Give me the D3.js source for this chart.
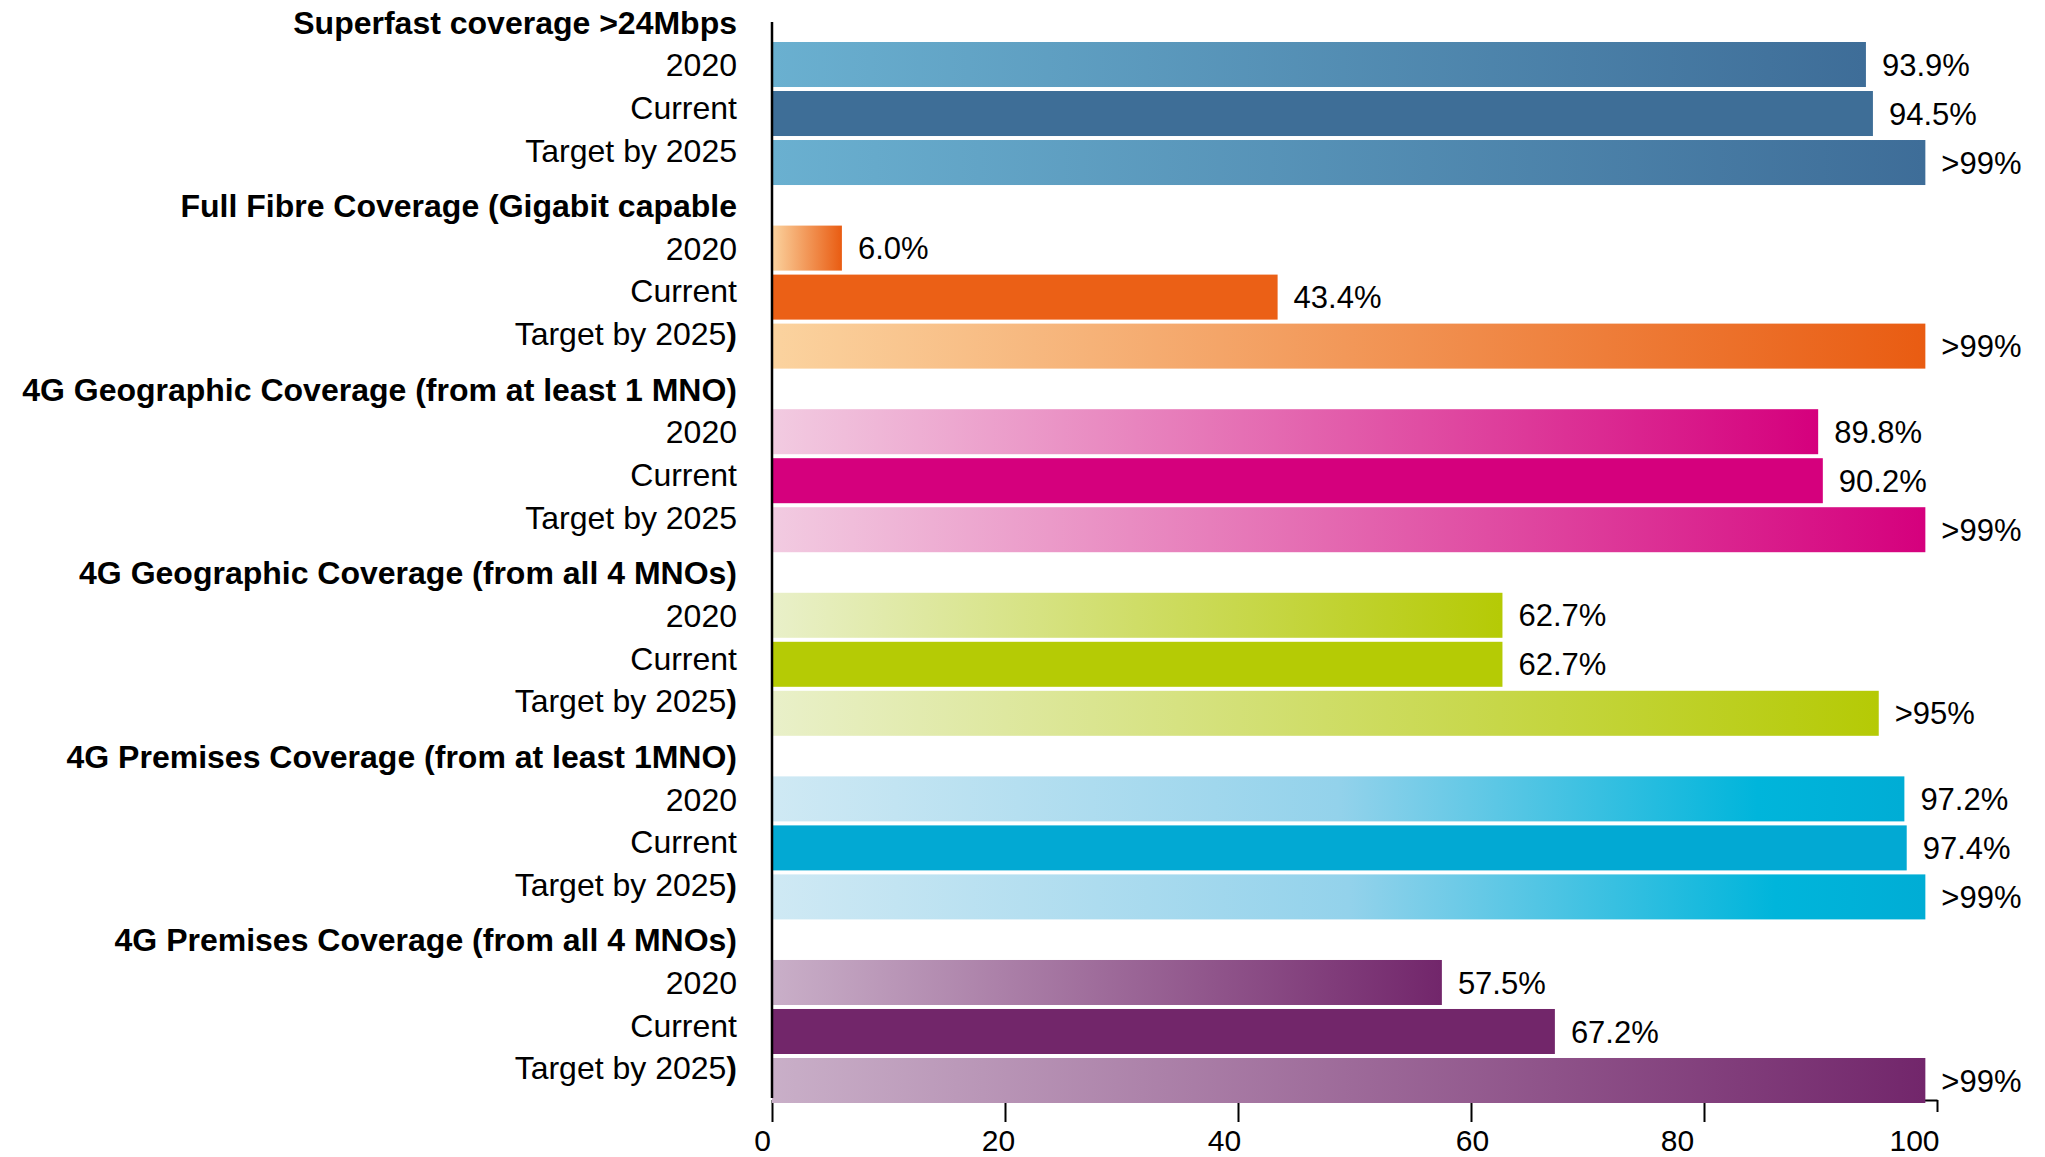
<!DOCTYPE html>
<html>
<head>
<meta charset="utf-8">
<script src="https://cdn.jsdelivr.net/npm/d3@7"></script>
<style>
  body { margin: 0; background: #fff; }
  svg { display: block; font-family: "Liberation Sans", Arial, sans-serif; }
</style>
</head>
<body>
<div id="chart"></div>
<script>
// coverage groups (headers as they appear in the source chart)
const groups = [
  "Superfast coverage >24Mbps",
  "Full Fibre Coverage (Gigabit capable",
  "4G Geographic Coverage (from at least 1 MNO)",
  "4G Geographic Coverage (from all 4 MNOs)",
  "4G Premises Coverage (from at least 1MNO)",
  "4G Premises Coverage (from all 4 MNOs)"
];
const series = ["2020", "Current", "Target"];
const targetLabels = [
  "Target by 2025", "Target by 2025)", "Target by 2025",
  "Target by 2025)", "Target by 2025)", "Target by 2025)"
];

const values2020 = [93.9, 6.0, 89.8, 62.7, 97.2, 57.5];
const valuesCurrent = [94.5, 43.4, 90.2, 62.7, 97.4, 67.2];
const valuesTarget = [99, 99, 99, 95, 99, 99];
const targetText = [">99%", ">99%", ">99%", ">95%", ">99%", ">99%"];

const xTicks = [0, 20, 40, 60, 80, 100];

// styling, kept apart from the numbers
const solidColors = ["#3E6E97", "#EB6016", "#D5007D", "#B5CB05", "#02A9D3", "#72266A"];
const gradStops = [
  [[0, "#6AB0D0"], [1, "#3E6D98"]],
  [[0, "#FBD39F"], [1, "#E95C12"]],
  [[0, "#F2CBE1"], [1, "#D5007D"]],
  [[0, "#E9F0C9"], [1, "#B5CA05"]],
  [[0, "#CFE9F4"], [0.5, "#93D2EB"], [0.87, "#00B5DB"], [1, "#00ADD5"]],
  [[0, "#C9AFC8"], [1, "#72266B"]]
];
// the source's tick labels drift a little off their ticks
const tickShift = {0: -10, 20: -7, 40: -14, 60: 1, 80: -27, 100: -23};

const width = 2045, height = 1157;

const rows = [];
groups.forEach((g, i) => {
  rows.push({group: i, key: "2020", value: values2020[i], text: d3.format(".1f")(values2020[i]) + "%"});
  rows.push({group: i, key: "Current", value: valuesCurrent[i], text: d3.format(".1f")(valuesCurrent[i]) + "%"});
  rows.push({group: i, key: "Target", value: valuesTarget[i], text: targetText[i]});
});

const x = d3.scaleLinear().domain([0, 100]).range([772, 1937]);

const yGroup = d3.scaleBand()
  .domain(d3.range(groups.length))
  .range([42, 1103])
  .paddingInner(0.221);

const yInner = d3.scaleBand()
  .domain(series)
  .range([0, yGroup.bandwidth()])
  .paddingInner(0.0816);

// the text column runs on a slightly tighter pitch than the bars
const yLabel = d3.scalePoint()
  .domain(["header"].concat(series))
  .range([0, 128]);

const svg = d3.select("#chart").append("svg")
  .attr("width", width)
  .attr("height", height)
  .attr("xmlns", "http://www.w3.org/2000/svg");

svg.append("rect").attr("width", width).attr("height", height).attr("fill", "#fff");

const defs = svg.append("defs");
gradStops.forEach((stops, i) => {
  const lg = defs.append("linearGradient")
    .attr("id", "grad" + i)
    .attr("x1", 0).attr("x2", 1).attr("y1", 0).attr("y2", 0);
  lg.selectAll("stop")
    .data(stops)
    .join("stop")
    .attr("offset", d => d[0])
    .attr("stop-color", d => d[1]);
});

// x axis (domain line sits behind the bars)
const xAxis = svg.append("g")
  .attr("transform", `translate(0,1100)`)
  .call(d3.axisBottom(x).tickValues(xTicks).tickSize(22).tickSizeOuter(0).tickPadding(8));
xAxis.select(".domain").attr("stroke", "#000").attr("stroke-width", 2);
xAxis.selectAll(".tick line").attr("stroke", "#000").attr("stroke-width", 2)
  .filter(d => d === 100).attr("y2", 12);
xAxis.selectAll(".tick text")
  .attr("fill", "#000")
  .attr("font-size", 30)
  .attr("dx", d => tickShift[d]);

// bars
svg.append("g")
  .selectAll("rect")
  .data(rows)
  .join("rect")
  .attr("x", x(0))
  .attr("y", d => yGroup(d.group) + yInner(d.key))
  .attr("width", d => x(d.value) - x(0))
  .attr("height", yInner.bandwidth())
  .attr("fill", d => d.key === "Current" ? solidColors[d.group] : `url(#grad${d.group})`);

// y axis line
svg.append("line")
  .attr("x1", x(0)).attr("x2", x(0))
  .attr("y1", 22).attr("y2", 1098)
  .attr("stroke", "#000")
  .attr("stroke-width", 2.5);

// value labels
svg.append("g")
  .attr("font-size", 31)
  .selectAll("text")
  .data(rows)
  .join("text")
  .attr("x", d => x(d.value) + 16)
  .attr("y", d => yGroup(d.group) + yInner(d.key) + yInner.bandwidth() / 2)
  .attr("dy", "0.36em")
  .text(d => d.text);

// category labels
const labelX = 737;
const lab = svg.append("g").attr("font-size", 32).attr("text-anchor", "end");

lab.selectAll("text.head")
  .data(groups)
  .join("text")
  .attr("class", "head")
  .attr("x", labelX)
  .attr("y", (d, i) => yGroup(i) - 20 + yLabel("header"))
  .attr("dy", "0.36em")
  .attr("font-weight", "bold")
  .text(d => d);

lab.selectAll("text.item")
  .data(rows)
  .join("text")
  .attr("class", "item")
  .attr("x", labelX)
  .attr("y", d => yGroup(d.group) - 20 + yLabel(d.key))
  .attr("dy", "0.36em")
  .each(function(d) {
    const t = d3.select(this);
    const label = d.key === "Target" ? targetLabels[d.group] : d.key;
    if (label.endsWith(")")) {
      t.append("tspan").text(label.slice(0, -1));
      t.append("tspan").attr("font-weight", "bold").text(")");
    } else {
      t.text(label);
    }
  });
</script>
</body>
</html>
